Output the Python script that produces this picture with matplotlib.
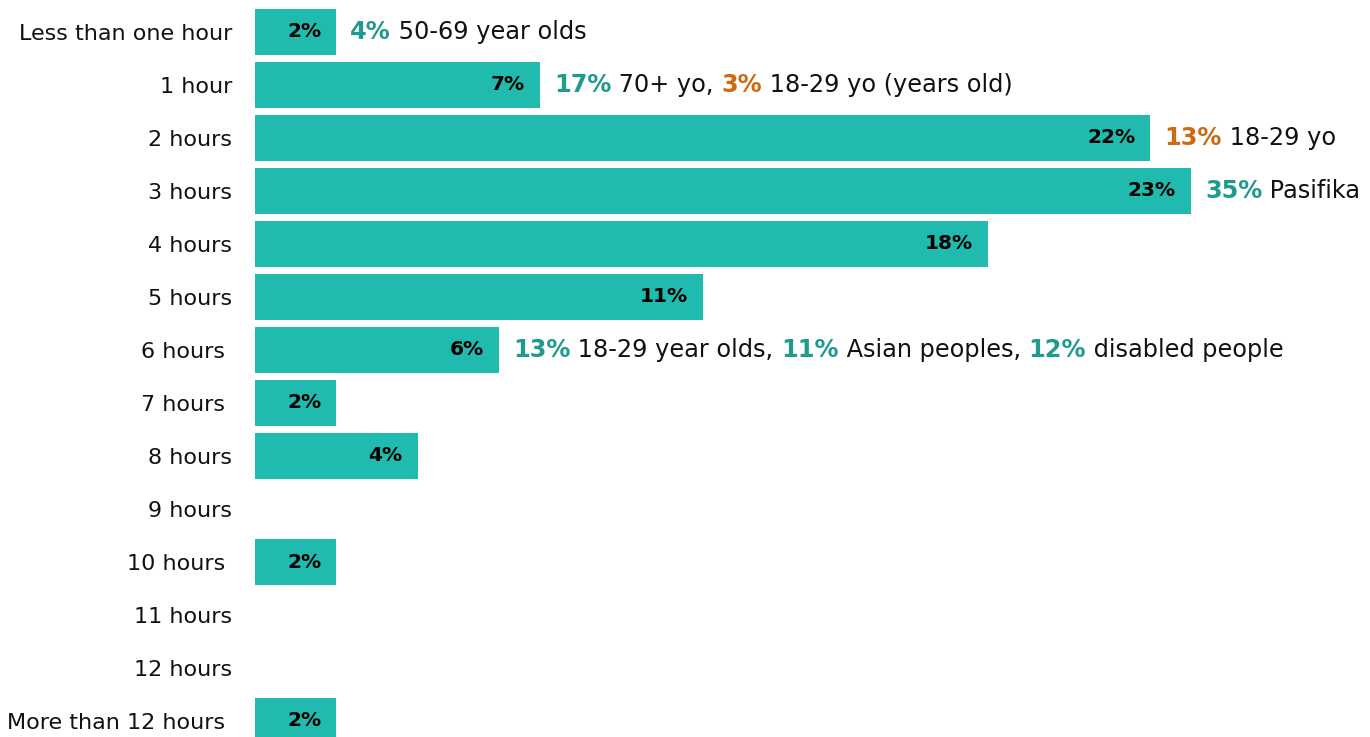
import matplotlib
matplotlib.use("Agg")
import matplotlib.pyplot as plt
from matplotlib.offsetbox import TextArea, HPacker, AnnotationBbox

plt.rcParams['font.family'] = ['DejaVu Sans']

categories = ["Less than one hour", "1 hour", "2 hours", "3 hours", "4 hours",
              "5 hours", "6 hours ", "7 hours ", "8 hours", "9 hours",
              "10 hours ", "11 hours", "12 hours", "More than 12 hours "]
values = [2, 7, 22, 23, 18, 11, 6, 2, 4, 0, 2, 0, 0, 2]
value_labels = ["2%", "7%", "22%", "23%", "18%", "11%", "6%", "2%", "4%", "",
                "2%", "", "", "2%"]

# side notes: (row index, list of (text, kind)) ; kind: 'teal' bold, 'orange' bold, 'plain'
notes = [
    (0, [("4%", "teal"), (" 50-69 year olds", "plain")]),
    (1, [("17%", "teal"), (" 70+ yo, ", "plain"), ("3%", "orange"),
         (" 18-29 yo (years old)", "plain")]),
    (2, [("13%", "orange"), (" 18-29 yo", "plain")]),
    (3, [("35%", "teal"), (" Pasifika", "plain")]),
    (6, [("13%", "teal"), (" 18-29 year olds, ", "plain"), ("11%", "teal"),
         (" Asian peoples, ", "plain"), ("12%", "teal"), (" disabled people", "plain")]),
]

BAR = "#21BAAE"
TEAL = "#1F9A8E"
ORANGE = "#CC6A12"
NOTE_FS = 17.3
styles = {
    "teal": dict(color=TEAL, fontweight="bold", fontsize=NOTE_FS),
    "orange": dict(color=ORANGE, fontweight="bold", fontsize=NOTE_FS),
    "plain": dict(color="#111111", fontsize=NOTE_FS),
}

W, H = 1370, 737
fig = plt.figure(figsize=(W / 100, H / 100), dpi=100)
left = 255 / W
ax = fig.add_axes([left, 0, 1 - left, 1])
px_per_unit = 40.7
ax.set_xlim(0, (W - 255) / px_per_unit)
ax.set_ylim((H - 32) / 53, -32 / 53)

ypos = list(range(len(categories)))
ax.barh(ypos, values, height=0.85, color=BAR)

for i, (v, lab) in enumerate(zip(values, value_labels)):
    if lab:
        ax.annotate(lab, xy=(v, i), xytext=(-11, 0), textcoords="offset points",
                    ha="right", va="center", fontsize=14.5, fontweight="bold",
                    color="black")

for row, parts in notes:
    areas = [TextArea(t, textprops=styles[k]) for t, k in parts]
    pack = HPacker(children=areas, align="baseline", pad=0, sep=0)
    ab = AnnotationBbox(pack, (values[row], row), xybox=(10, 0),
                        xycoords="data", boxcoords="offset points",
                        box_alignment=(0, 0.5), frameon=False, pad=0)
    ax.add_artist(ab)

ax.set_yticks(ypos)
ax.set_yticklabels(categories, fontsize=16, color="#111111")
ax.tick_params(axis="y", length=0, pad=16.5)
ax.tick_params(axis="x", length=0, labelbottom=False)
for s in ax.spines.values():
    s.set_visible(False)

fig.savefig("out.png", dpi=100)
